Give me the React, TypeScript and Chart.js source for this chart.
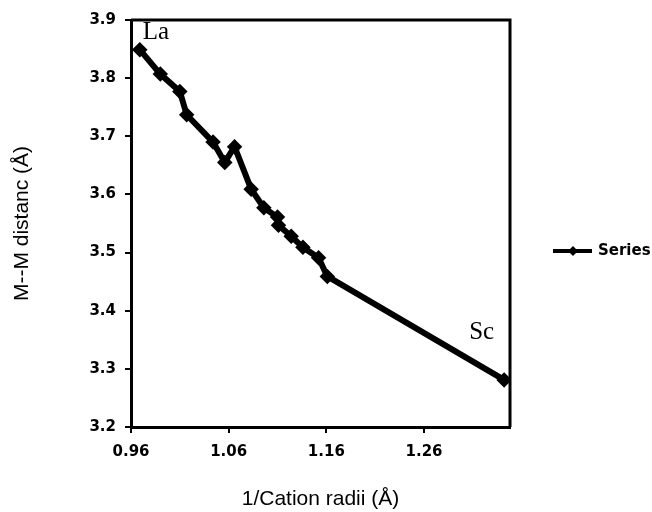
import React, { useEffect, useRef } from "react";
import { Chart, registerables } from "chart.js";
Chart.register(...registerables);

const invRadii = [0.969, 0.990, 1.010, 1.017, 1.044, 1.056, 1.066, 1.083, 1.096, 1.110, 1.111, 1.124, 1.136, 1.152, 1.161, 1.342];
const distances = [3.849, 3.807, 3.777, 3.737, 3.690, 3.655, 3.682, 3.609, 3.577, 3.561, 3.547, 3.528, 3.509, 3.491, 3.459, 3.281];
const xTicks = [0.96, 1.06, 1.16, 1.26];
const yTicks = [3.2, 3.3, 3.4, 3.5, 3.6, 3.7, 3.8, 3.9];
const seriesName = "Series1";
const endLabels = ["La", "Sc"];

const FONT = "'DejaVu Sans', Verdana, sans-serif";
const TFONT = "'Liberation Sans', Arial, sans-serif";

export default function App() {
  const ref = useRef<HTMLCanvasElement>(null);
  useEffect(() => {
    document.body.style.margin = "0";
    const ctx = ref.current!.getContext("2d")!;
    const extras = {
      id: "extras",
      afterDraw(chart: any) {
        const { ctx, chartArea: a, scales } = chart;
        ctx.save();
        ctx.strokeStyle = "#000";
        ctx.lineWidth = 3;
        ctx.beginPath();
        ctx.moveTo(a.left, a.top);
        ctx.lineTo(a.right, a.top);
        ctx.lineTo(a.right, a.bottom);
        ctx.stroke();
        // end labels
        ctx.fillStyle = "#000";
        ctx.font = "25px 'Liberation Serif', 'Times New Roman', serif";
        ctx.textBaseline = "alphabetic";
        const x0 = scales.x.getPixelForValue(invRadii[0]);
        const y0 = scales.y.getPixelForValue(distances[0]);
        ctx.textAlign = "left";
        ctx.fillText(endLabels[0], x0 + 3, y0 - 11);
        const n = invRadii.length - 1;
        const x1 = scales.x.getPixelForValue(invRadii[n]);
        const y1 = scales.y.getPixelForValue(distances[n]);
        ctx.textAlign = "right";
        ctx.fillText(endLabels[1], x1 - 10, y1 - 41);
        // legend
        const ly = 251;
        const lx = a.right + 43;
        ctx.lineWidth = 4;
        ctx.beginPath();
        ctx.moveTo(lx, ly);
        ctx.lineTo(lx + 39, ly);
        ctx.stroke();
        ctx.beginPath();
        ctx.moveTo(lx + 20, ly - 5);
        ctx.lineTo(lx + 25, ly);
        ctx.lineTo(lx + 20, ly + 5);
        ctx.lineTo(lx + 15, ly);
        ctx.closePath();
        ctx.fill();
        ctx.font = `bold 15px ${FONT}`;
        ctx.textAlign = "left";
        ctx.textBaseline = "middle";
        ctx.fillText(seriesName, lx + 45, ly);
        ctx.restore();
      },
    };
    const chart = new Chart(ctx, {
      type: "scatter",
      data: {
        datasets: [
          {
            label: seriesName,
            data: invRadii.map((x, i) => ({ x, y: distances[i] })),
            showLine: true,
            borderColor: "#000",
            backgroundColor: "#000",
            borderWidth: 6,
            pointStyle: "rectRot",
            pointRadius: 3.5,
            tension: 0,
          },
        ],
      },
      options: {
        animation: false,
        responsive: false,
        layout: { padding: { top: 20, right: 142, left: 0, bottom: 0 } },
        plugins: { legend: { display: false }, tooltip: { enabled: false } },
        scales: {
          x: {
            type: "linear",
            min: 0.96,
            max: 1.348,
            afterBuildTicks: (s: any) => {
              s.ticks = xTicks.map((v) => ({ value: v }));
            },
            afterFit: (s: any) => {
              s.height = 85;
            },
            ticks: {
              color: "#000",
              font: { family: FONT, size: 15, weight: "bold" },
              padding: 10,
              callback: (v: any) => Number(v).toFixed(2),
            },
            grid: { drawOnChartArea: false, drawTicks: true, tickLength: 6, color: "#000", lineWidth: 2 },
            border: { display: true, color: "#000", width: 3 },
            title: {
              display: true,
              text: "1/Cation radii (Å)",
              color: "#000",
              font: { family: TFONT, size: 21 },
              padding: { top: 20, bottom: 0 },
            },
          },
          y: {
            type: "linear",
            min: 3.2,
            max: 3.9,
            afterBuildTicks: (s: any) => {
              s.ticks = yTicks.map((v) => ({ value: v }));
            },
            afterFit: (s: any) => {
              s.width = 131;
            },
            ticks: {
              color: "#000",
              font: { family: FONT, size: 15, weight: "bold" },
              padding: 9,
              callback: (v: any) => Number(v).toFixed(1),
            },
            grid: { drawOnChartArea: false, drawTicks: true, tickLength: 6, color: "#000", lineWidth: 2 },
            border: { display: true, color: "#000", width: 3 },
            title: {
              display: true,
              text: "M--M distanc (Å)",
              color: "#000",
              font: { family: TFONT, size: 21 },
              padding: { top: 10, bottom: 0 },
            },
          },
        },
      },
      plugins: [extras],
    } as any);
    return () => chart.destroy();
  }, []);
  return (
    <div style={{ position: "absolute", left: 0, top: 0, width: 652, height: 512, background: "#fff" }}>
      <canvas ref={ref} width={652} height={512} />
    </div>
  );
}
